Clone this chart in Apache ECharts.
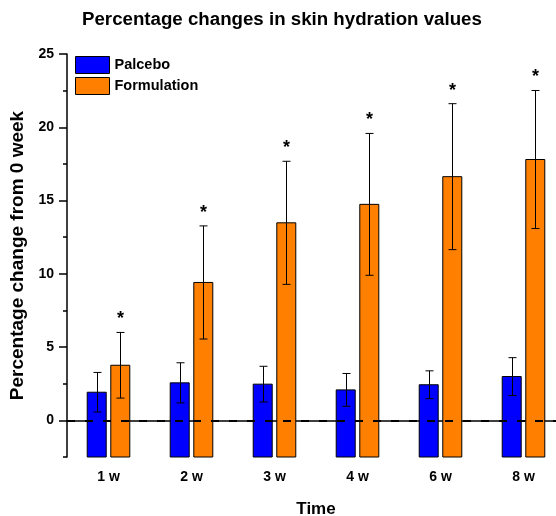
<!DOCTYPE html>
<html>
<head>
<meta charset="utf-8">
<script src="https://cdn.jsdelivr.net/npm/echarts@6/dist/echarts.min.js"></script>
<style>html,body{margin:0;padding:0;background:#fff}#c{width:556px;height:516px}</style>
</head>
<body>
<div id="c"></div>
<script>
const categories = ['1 w', '2 w', '3 w', '4 w', '6 w', '8 w'];
const placeboMean = [1.92, 2.56, 2.47, 2.08, 2.43, 2.99];
const placeboErr = [1.35, 1.37, 1.22, 1.12, 0.95, 1.29];
const formulationMean = [3.76, 9.41, 13.48, 14.74, 16.63, 17.80];
const formulationErr = [2.24, 3.86, 4.20, 4.84, 4.98, 4.71];
const significance = ['*', '*', '*', '*', '*', '*'];
const yTickValues = [0, 5, 10, 15, 20, 25];
const yMin = -2.5, yMax = 25;

const FONT = '"Liberation Sans", Arial, sans-serif';
const BAR_W = 19;
const OFF = 0.142;

function barRender(offFrac) {
  return function (params, api) {
    const i = api.value(0), v = api.value(1);
    const top = api.coord([i, v]);
    const base = api.coord([i, yMin]);
    const band = api.size([1, 0])[0];
    const cx = top[0] + band * offFrac;
    return {
      type: 'rect',
      shape: { x: cx - BAR_W / 2, y: top[1], width: BAR_W, height: base[1] - top[1] },
      style: { fill: api.visual('color'), stroke: '#000', lineWidth: 1 }
    };
  };
}
function errRender(offFrac, withStar) {
  return function (params, api) {
    const i = api.value(0), m = api.value(1), e = api.value(2);
    const hi = api.coord([i, m + e]);
    const lo = api.coord([i, m - e]);
    const band = api.size([1, 0])[0];
    const cx = Math.round(hi[0] + band * offFrac) + 0.5;
    const cap = 4;
    const ls = { stroke: '#000', lineWidth: 1 };
    const children = [
      { type: 'line', shape: { x1: cx, y1: hi[1], x2: cx, y2: lo[1] }, style: ls },
      { type: 'line', shape: { x1: cx - cap, y1: hi[1], x2: cx + cap, y2: hi[1] }, style: ls },
      { type: 'line', shape: { x1: cx - cap, y1: lo[1], x2: cx + cap, y2: lo[1] }, style: ls }
    ];
    if (withStar) {
      children.push({
        type: 'text',
        style: {
          text: significance[params.dataIndex], x: cx, y: hi[1] - 13,
          fill: '#000', font: 'bold 18px ' + FONT, align: 'center', verticalAlign: 'middle'
        }
      });
    }
    return { type: 'group', children: children };
  };
}

const chart = echarts.init(document.getElementById('c'), null, { renderer: 'canvas' });
chart.setOption({
  animation: false,
  backgroundColor: '#fff',
  title: {
    text: 'Percentage changes in skin hydration values',
    left: 77, top: 5,
    textStyle: { fontFamily: FONT, fontWeight: 'bold', fontSize: 18.7, color: '#000' }
  },
  legend: {
    orient: 'vertical', left: 70, top: 51,
    itemWidth: 34, itemHeight: 17, itemGap: 3,
    icon: 'rect',
    textStyle: { fontFamily: FONT, fontWeight: 'bold', fontSize: 14.5, color: '#000' },
    data: [
      { name: 'Palcebo', itemStyle: { color: '#0000FF', borderColor: '#000', borderWidth: 1 } },
      { name: 'Formulation', itemStyle: { color: '#FF8000', borderColor: '#000', borderWidth: 1 } }
    ]
  },
  grid: { left: 67, right: -9, top: 54, bottom: 59, containLabel: false, outerBoundsMode: 'none' },
  xAxis: [{
    type: 'category', data: categories, position: 'bottom',
    name: 'Time', nameLocation: 'middle', nameGap: 44,
    nameTextStyle: { fontFamily: FONT, fontWeight: 'bold', fontSize: 17, color: '#000' },
    axisLine: { lineStyle: { color: '#000', width: 1.5 } },
    axisTick: { alignWithLabel: true, length: 6, lineStyle: { color: '#000', width: 1.5 } },
    axisLabel: { fontFamily: FONT, fontWeight: 'bold', fontSize: 14, color: '#000', margin: 13 },
    splitLine: { show: false }
  }, {
    type: 'category', data: categories, position: 'bottom', offset: 0,
    axisLine: { show: false },
    axisTick: { alignWithLabel: false, length: 4, lineStyle: { color: '#000', width: 1.5 } },
    axisLabel: { show: false }, splitLine: { show: false }
  }],
  yAxis: [{
    type: 'value', min: yMin, max: yMax, position: 'left',
    name: 'Percentage change from 0 week', nameLocation: 'middle', nameGap: 35, nameRotate: 90,
    nameTextStyle: { fontFamily: FONT, fontWeight: 'bold', fontSize: 19, color: '#000' },
    axisLine: { show: true, lineStyle: { color: '#000', width: 1.5 } },
    axisTick: { show: true, length: 8, customValues: yTickValues, lineStyle: { color: '#000', width: 1.5 } },
    axisLabel: { customValues: yTickValues, fontFamily: FONT, fontWeight: 'bold', fontSize: 14, color: '#000', margin: 13 },
    splitLine: { show: false }
  }, {
    type: 'value', min: yMin, max: yMax, interval: 2.5, position: 'left', offset: 0,
    axisLine: { show: false },
    axisTick: { show: true, length: 4, lineStyle: { color: '#000', width: 1.5 } },
    axisLabel: { show: false }, splitLine: { show: false }
  }],
  series: [
    {
      name: 'Palcebo', type: 'custom', color: '#0000FF', z: 2,
      renderItem: barRender(-OFF),
      encode: { x: 0, y: 1 },
      data: placeboMean.map((v, i) => [i, v])
    },
    {
      name: 'Formulation', type: 'custom', color: '#FF8000', z: 2,
      renderItem: barRender(OFF),
      encode: { x: 0, y: 1 },
      data: formulationMean.map((v, i) => [i, v])
    },
    {
      name: 'Palcebo SD', type: 'custom', z: 4,
      renderItem: errRender(-OFF, false),
      encode: { x: 0, y: 1 },
      data: placeboMean.map((v, i) => [i, v, placeboErr[i]]),
      markLine: {
        silent: true, symbol: 'none', label: { show: false },
        lineStyle: { type: [8, 10], color: '#000', width: 2 },
        data: [{ yAxis: 0 }]
      }
    },
    {
      name: 'Formulation SD', type: 'custom', z: 4,
      renderItem: errRender(OFF, true),
      encode: { x: 0, y: 1 },
      data: formulationMean.map((v, i) => [i, v, formulationErr[i]])
    }
  ]
});
</script>
</body>
</html>
